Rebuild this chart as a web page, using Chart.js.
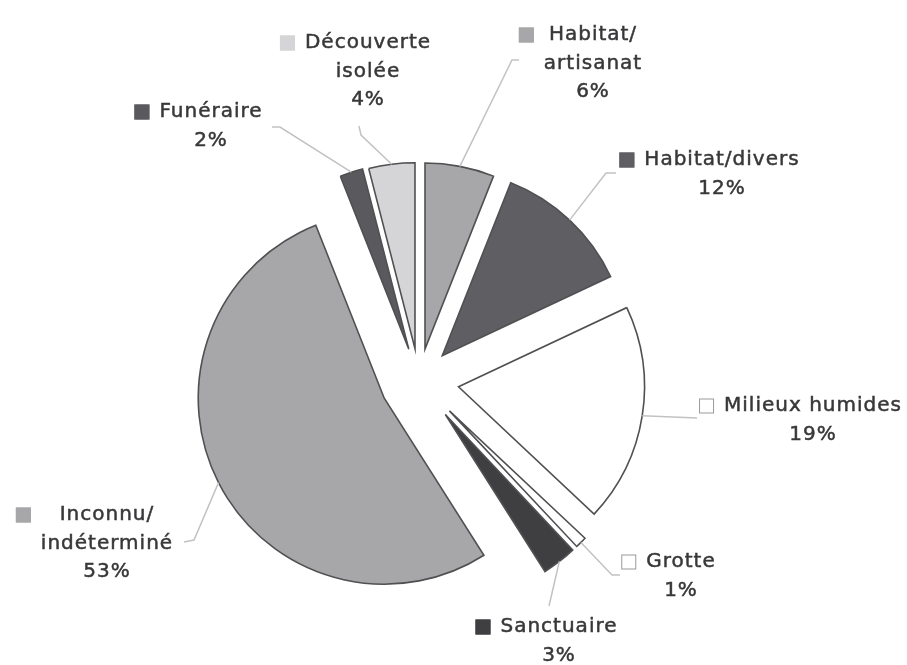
<!DOCTYPE html>
<html lang="fr">
<head>
<meta charset="utf-8">
<title>Répartition des sites</title>
<script src="https://cdn.jsdelivr.net/npm/chart.js@4/dist/chart.umd.min.js"></script>
<style>
  html, body { margin: 0; padding: 0; background: #ffffff; }
  #wrap { position: relative; width: 907px; height: 665px; }
</style>
</head>
<body>
<div id="wrap"><canvas id="pie"></canvas></div>
<script>
// Categories, clockwise from 12 o'clock
const categories = [
  'Habitat/artisanat', 'Habitat/divers', 'Milieux humides', 'Grotte',
  'Sanctuaire', 'Inconnu/indéterminé', 'Funéraire', 'Découverte isolée'
];
// Label text, split on the lines it is printed on
const labelLines = [
  ['Habitat/', 'artisanat'], ['Habitat/divers'], ['Milieux humides'], ['Grotte'],
  ['Sanctuaire'], ['Inconnu/', 'indéterminé'], ['Funéraire'], ['Découverte', 'isolée']
];
// Share of sites, in percent
const percentages = [6, 12, 19, 1, 3, 53, 2, 4];

// Styling
const sliceColors = ['#a7a7aa', '#5f5f63', '#ffffff', '#ffffff', '#3f3f42', '#a7a7aa', '#5a5a5e', '#d5d5d7'];
const explode = [32, 34, 40, 43, 43, 39, 33, 32];   // px each slice is pulled out
const BORDER = '#505053';

// Label block placement: text centre x, first-line centre y, leader path (from slice edge to label)
const labelLayout = [
  { cx: 593, y: 35,  leader: [[512, 60], [519, 60]] },
  { cx: 722, y: 160, leader: [[606, 173], [616, 173]] },
  { cx: 813, y: 406, leader: [[697, 418]] },
  { cx: 681, y: 562, leader: [[612, 575], [620, 575]] },
  { cx: 559, y: 627, leader: [[549, 606]] },
  { cx: 107, y: 515, leader: [[194, 540], [184, 542]] },
  { cx: 211, y: 112, leader: [[280, 127], [272, 127]] },
  { cx: 368, y: 43,  leader: [[361, 135], [359, 126]] }
];

const FONT = '20px "DejaVu Sans", Verdana, sans-serif';
const LINE_H = 28.5;

// Draw every slice pulled out along its bisector
const explodedSlices = {
  id: 'explodedSlices',
  beforeDatasetDraw(chart, args) {
    const ctx = chart.ctx;
    const arcs = chart.getDatasetMeta(args.index).data;
    arcs.forEach((arc, i) => {
      const half = (arc.startAngle + arc.endAngle) / 2;
      ctx.save();
      ctx.translate(Math.cos(half) * explode[i], Math.sin(half) * explode[i]);
      arc.draw(ctx);
      ctx.restore();
    });
    return false;
  }
};

// Data labels with legend keys and leader lines
const sliceLabels = {
  id: 'sliceLabels',
  afterDraw(chart) {
    const ctx = chart.ctx;
    const arcs = chart.getDatasetMeta(0).data;
    ctx.save();
    ctx.font = FONT;
    ctx.letterSpacing = '1px';
    ctx.textAlign = 'center';
    ctx.textBaseline = 'middle';

    arcs.forEach((arc, i) => {
      const half = (arc.startAngle + arc.endAngle) / 2;
      const ox = arc.x + Math.cos(half) * explode[i];
      const oy = arc.y + Math.sin(half) * explode[i];
      const sx = ox + Math.cos(half) * arc.outerRadius;
      const sy = oy + Math.sin(half) * arc.outerRadius;
      const lay = labelLayout[i];

      // leader line
      ctx.strokeStyle = '#c2c2c4';
      ctx.lineWidth = 1.5;
      ctx.beginPath();
      ctx.moveTo(sx, sy);
      lay.leader.forEach(p => ctx.lineTo(p[0], p[1]));
      ctx.stroke();

      // text lines
      const lines = labelLines[i].concat([percentages[i] + '%']);
      const widest = Math.max(...lines.map(t => ctx.measureText(t).width));
      ctx.fillStyle = '#38383a';
      ctx.strokeStyle = '#38383a';
      ctx.lineWidth = 0.5;
      lines.forEach((t, k) => {
        ctx.fillText(t, lay.cx, lay.y + k * LINE_H);
        ctx.strokeText(t, lay.cx, lay.y + k * LINE_H);
      });

      // legend key before the first line
      const kx = lay.cx - widest / 2 - 25;
      ctx.fillStyle = sliceColors[i];
      ctx.fillRect(kx, lay.y - 7.5, 15, 15);
      ctx.strokeStyle = i === 2 || i === 3 ? '#9a9a9c' : sliceColors[i];
      ctx.lineWidth = 1;
      ctx.strokeRect(kx + 0.5, lay.y - 7, 14, 14);
    });
    ctx.restore();
  }
};

new Chart(document.getElementById('pie'), {
  type: 'pie',
  data: {
    labels: categories,
    datasets: [{
      data: percentages,
      backgroundColor: sliceColors,
      borderColor: BORDER,
      borderWidth: 1.6,
      borderJoinStyle: 'miter',
      clip: false
    }]
  },
  options: {
    responsive: true,
    maintainAspectRatio: false,
    animation: false,
    radius: 186,
    rotation: 0,
    layout: { padding: { left: 0, right: 69, top: 96, bottom: 0 } },
    plugins: {
      legend: { display: false },
      tooltip: { enabled: false }
    }
  },
  plugins: [explodedSlices, sliceLabels]
});
</script>
</body>
</html>
